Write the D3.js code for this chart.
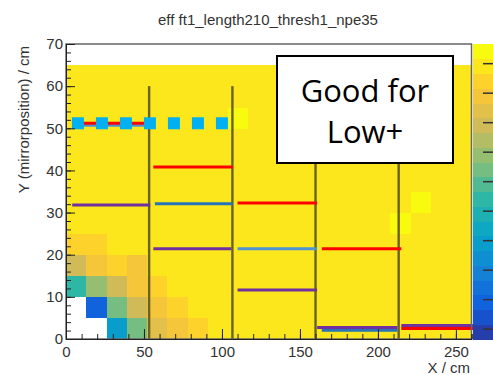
<!DOCTYPE html>
<html>
<head>
<meta charset="utf-8">
<script src="https://cdn.jsdelivr.net/npm/d3@7"></script>
<style>
  body { margin: 0; background: #fff; }
  svg { display: block; font-family: "Liberation Sans", Arial, sans-serif; }
</style>
</head>
<body>
<script>
// bin edges of the 2D histogram (cm)
const xEdges = [0, 13, 26, 39, 52, 65, 78, 91, 104, 117, 130, 143, 156, 169, 182, 195, 208, 221, 234, 247, 260];
const yEdges = [0, 5, 10, 15, 20, 25, 30, 35, 40, 45, 50, 55, 60, 65];

// efficiency of each bin, first row is y = 0..5, null = empty bin
const effRows = [
  [null, null, 0.29, 0.54, 0.74, 0.79, 0.84, 0.89, 0.89, 0.89, 0.89, 0.89, 0.89, 0.89, 0.89, 0.89, 0.89, 0.89, 0.89, 0.89],
  [null, 0.09, 0.54, 0.69, 0.79, 0.84, 0.89, 0.89, 0.89, 0.89, 0.89, 0.89, 0.89, 0.89, 0.89, 0.89, 0.89, 0.89, 0.89, 0.89],
  [0.44, 0.59, 0.69, 0.79, 0.84, 0.89, 0.89, 0.89, 0.89, 0.89, 0.89, 0.89, 0.89, 0.89, 0.89, 0.89, 0.89, 0.89, 0.89, 0.89],
  [0.69, 0.79, 0.84, 0.79, 0.89, 0.89, 0.89, 0.89, 0.89, 0.89, 0.89, 0.89, 0.89, 0.89, 0.89, 0.89, 0.89, 0.89, 0.89, 0.89],
  [0.84, 0.84, 0.89, 0.89, 0.89, 0.89, 0.89, 0.89, 0.89, 0.89, 0.89, 0.89, 0.89, 0.89, 0.89, 0.89, 0.89, 0.89, 0.89, 0.89],
  [0.89, 0.89, 0.89, 0.89, 0.89, 0.89, 0.89, 0.89, 0.89, 0.89, 0.89, 0.89, 0.89, 0.89, 0.89, 0.89, 0.94, 0.89, 0.89, 0.89],
  [0.89, 0.89, 0.89, 0.89, 0.89, 0.89, 0.89, 0.89, 0.89, 0.89, 0.89, 0.89, 0.89, 0.89, 0.89, 0.89, 0.89, 0.94, 0.89, 0.89],
  [0.89, 0.89, 0.89, 0.89, 0.89, 0.89, 0.89, 0.89, 0.89, 0.89, 0.89, 0.89, 0.89, 0.89, 0.89, 0.89, 0.89, 0.89, 0.89, 0.89],
  [0.89, 0.89, 0.89, 0.89, 0.89, 0.89, 0.89, 0.89, 0.89, 0.89, 0.89, 0.89, 0.89, 0.89, 0.89, 0.89, 0.89, 0.89, 0.89, 0.89],
  [0.89, 0.89, 0.89, 0.89, 0.89, 0.89, 0.89, 0.89, 0.89, 0.89, 0.89, 0.89, 0.89, 0.89, 0.89, 0.89, 0.89, 0.89, 0.89, 0.89],
  [0.89, 0.89, 0.89, 0.89, 0.89, 0.89, 0.89, 0.89, 0.94, 0.89, 0.89, 0.89, 0.89, 0.89, 0.89, 0.89, 0.89, 0.89, 0.89, 0.89],
  [0.89, 0.89, 0.89, 0.89, 0.89, 0.89, 0.89, 0.89, 0.89, 0.89, 0.89, 0.89, 0.89, 0.89, 0.89, 0.89, 0.89, 0.89, 0.89, 0.89],
  [0.89, 0.89, 0.89, 0.89, 0.89, 0.89, 0.89, 0.89, 0.89, 0.89, 0.89, 0.89, 0.89, 0.89, 0.89, 0.89, 0.89, 0.89, 0.89, 0.89]
];

// region dividers (x, cm) and their top (y, cm)
const dividerX = [53.3, 106.7, 160, 213.3];
const dividerTop = 60;

// threshold segments: [x from, x to, y] in cm
const lightBlueSegments = [[4, 50, 50.7], [110, 161, 21.4]];
const redSegments = [[4, 54, 51.2], [56, 107, 40.8], [110, 161, 32.3], [164, 215, 21.4], [215, 266, 2.5]];
const blueSegments = [[57, 107, 32.1], [164, 212.5, 2.1]];
const purpleSegments = [[4, 54, 31.8], [56, 106, 21.4], [110, 161, 11.6], [161, 212.5, 2.7], [215, 266, 3.2]];
const cyanDotted = [3.8, 104, 51.2];

const titleText = 'eff ft1_length210_thresh1_npe35';
const boxLines = ['Good for', 'Low+'];

const WIDTH = 493;
const HEIGHT = 375;
const frame = { left: 66, right: 471.5, top: 44, bottom: 339 };

const svg = d3.select('body')
  .append('svg')
  .attr('width', WIDTH)
  .attr('height', HEIGHT);

const x = d3.scaleLinear().domain([0, 260]).range([frame.left, frame.right]);
const y = d3.scaleLinear().domain([0, 70]).range([frame.bottom, frame.top]);

// kBird palette, 20 contour levels
const birdStops = [0, 0.125, 0.25, 0.375, 0.5, 0.625, 0.75, 0.875, 1];
const birdColors = ['#352a87', '#0f5cdd', '#1481d6', '#06a4ca', '#2eb7a4', '#87bf77', '#d1bb59', '#fec832', '#f9fb0e'];
const bird = d3.scaleLinear().domain(birdStops).range(birdColors).interpolate(d3.interpolateRgb);
const zDomain = [-0.035, 0.965];
const nLevels = 20;
const color = d3.scaleQuantize()
  .domain(zDomain)
  .range(d3.range(nLevels).map(i => bird((i + 1) / nLevels)));

// cells
const cells = [];
effRows.forEach((row, r) => row.forEach((v, c) => {
  if (v !== null) cells.push({ r, c, v });
}));

svg.append('g')
  .selectAll('rect')
  .data(cells)
  .enter()
  .append('rect')
  .attr('x', d => x(xEdges[d.c]))
  .attr('y', d => y(yEdges[d.r + 1]))
  .attr('width', d => x(xEdges[d.c + 1]) - x(xEdges[d.c]) + 0.5)
  .attr('height', d => y(yEdges[d.r]) - y(yEdges[d.r + 1]) + 0.5)
  .attr('fill', d => color(d.v))
  .attr('shape-rendering', 'crispEdges');

// dividers
svg.append('g')
  .selectAll('line')
  .data(dividerX)
  .enter()
  .append('line')
  .attr('x1', d => x(d))
  .attr('x2', d => x(d))
  .attr('y1', y(0))
  .attr('y2', y(dividerTop))
  .attr('stroke', '#6a6222')
  .attr('stroke-width', 2.4);

function drawSegments(list, stroke) {
  svg.append('g')
    .selectAll('line')
    .data(list)
    .enter()
    .append('line')
    .attr('x1', d => x(d[0]))
    .attr('x2', d => x(d[1]))
    .attr('y1', d => y(d[2]))
    .attr('y2', d => y(d[2]))
    .attr('stroke', stroke)
    .attr('stroke-width', 3);
}
drawSegments(lightBlueSegments, '#4f93d2');
drawSegments(blueSegments, '#2673b8');
drawSegments(purpleSegments, '#7030a0');
drawSegments(redSegments, '#ff0000');

svg.append('line')
  .attr('x1', x(cyanDotted[0]))
  .attr('x2', x(cyanDotted[1]))
  .attr('y1', y(cyanDotted[2]))
  .attr('y2', y(cyanDotted[2]))
  .attr('stroke', '#00b0f0')
  .attr('stroke-width', 12)
  .attr('stroke-dasharray', '12 12');

// frame
svg.append('rect')
  .attr('x', frame.left)
  .attr('y', frame.top)
  .attr('width', frame.right - frame.left)
  .attr('height', frame.bottom - frame.top)
  .attr('fill', 'none')
  .attr('stroke', '#666')
  .attr('stroke-width', 1.5);

// axes, ticks inside the frame
svg.append('g')
  .attr('transform', `translate(0, ${frame.bottom})`)
  .call(d3.axisBottom(x).tickValues(x.ticks(5)).tickSizeInner(-10).tickSizeOuter(0).tickPadding(7.5));
svg.append('g')
  .attr('transform', `translate(0, ${frame.bottom})`)
  .call(d3.axisBottom(x).tickValues(x.ticks(26)).tickSize(-5).tickFormat(''));

svg.append('g')
  .attr('transform', `translate(${frame.left}, 0)`)
  .call(d3.axisLeft(y).tickValues(y.ticks(7)).tickSizeInner(-9).tickSizeOuter(0).tickPadding(3));
svg.append('g')
  .attr('transform', `translate(${frame.left}, 0)`)
  .call(d3.axisLeft(y).tickValues(y.ticks(35)).tickSize(-5).tickFormat(''));

svg.selectAll('.tick line').attr('stroke', '#222');
svg.selectAll('.domain').attr('stroke', '#222');
svg.selectAll('.tick text')
  .attr('font-size', 15)
  .attr('fill', '#333')
  .attr('font-family', '"Liberation Sans", Arial, sans-serif');

// colour bar (its labels lie outside the picture)
const zScale = d3.scaleLinear().domain(zDomain).range([frame.bottom, frame.top]);
const barX = 473;
const barW = 30;
svg.append('g')
  .selectAll('rect')
  .data(color.range())
  .enter()
  .append('rect')
  .attr('x', barX)
  .attr('y', d => zScale(color.invertExtent(d)[1]))
  .attr('width', barW)
  .attr('height', d => zScale(color.invertExtent(d)[0]) - zScale(color.invertExtent(d)[1]) + 0.5)
  .attr('fill', d => d)
  .attr('shape-rendering', 'crispEdges');
svg.append('g')
  .attr('transform', `translate(${barX + barW}, 0)`)
  .call(d3.axisRight(zScale).ticks(10).tickSizeInner(-20).tickSizeOuter(0).tickFormat(''))
  .call(g => g.selectAll('line').attr('stroke', '#333').attr('stroke-width', 1.5))
  .call(g => g.select('.domain').remove());

// title and axis titles
svg.append('text')
  .attr('x', 268)
  .attr('y', 25)
  .attr('text-anchor', 'middle')
  .attr('font-size', 15)
  .attr('fill', '#333')
  .text(titleText);

svg.append('text')
  .attr('transform', 'translate(28.5, 46) rotate(-90)')
  .attr('text-anchor', 'end')
  .attr('font-size', 15)
  .attr('fill', '#333')
  .text('Y (mirrorposition)  / cm');

svg.append('text')
  .attr('x', 470)
  .attr('y', 373)
  .attr('text-anchor', 'end')
  .attr('font-size', 15)
  .attr('fill', '#333')
  .text('X  / cm');

// annotation box
svg.append('rect')
  .attr('x', 277)
  .attr('y', 56)
  .attr('width', 176)
  .attr('height', 107)
  .attr('fill', '#fff')
  .attr('stroke', '#000')
  .attr('stroke-width', 2);

svg.append('g')
  .selectAll('text')
  .data(boxLines)
  .enter()
  .append('text')
  .attr('x', 365)
  .attr('y', (d, i) => 102 + i * 41)
  .attr('text-anchor', 'middle')
  .attr('font-size', 31)
  .attr('font-family', '"Open Sans", "Noto Sans", sans-serif')
  .attr('fill', '#000')
  .text(d => d);
</script>
</body>
</html>
